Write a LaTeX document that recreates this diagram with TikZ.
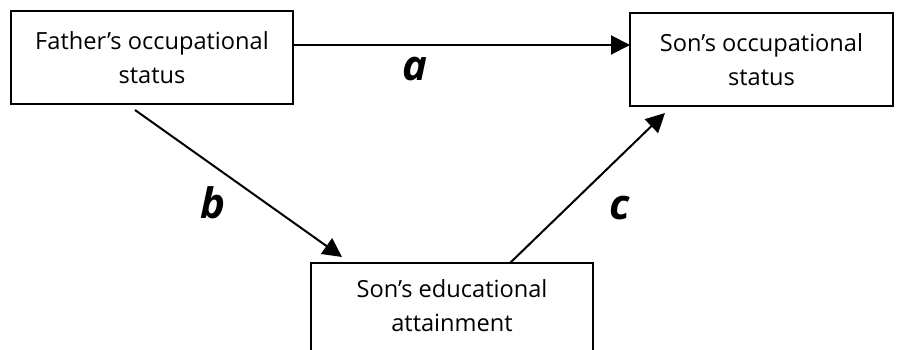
\documentclass[tikz,border=0pt]{standalone}
\usepackage{fontspec}
\setmainfont{Open Sans}
\usetikzlibrary{arrows.meta}
\begin{document}
\begin{tikzpicture}[x=0.5pt,y=-0.5pt,
  box/.style={draw, line width=1pt, inner sep=0pt, align=center,
    font=\fontsize{11.8pt}{17pt}\selectfont},
  link/.style={line width=1pt, -{Triangle[length=9.5pt,width=9.5pt]}},
  lbl/.style={font=\fontsize{21pt}{21pt}\selectfont\bfseries\itshape}]
  \useasboundingbox (0,0) rectangle (900,349);
  \clip (0,0) rectangle (900,349);
  \node[box, minimum width=141pt, minimum height=46.5pt] (fa) at (152,57.5)
    {Father's occupational\\status};
  \node[box, minimum width=131.5pt, minimum height=46.5pt] (so) at (761.5,59.5)
    {Son's occupational\\status};
  \node[box, minimum width=141pt, minimum height=60pt] (se) at (452,323)
    {};
  \node[align=center, font=\fontsize{11.8pt}{17pt}\selectfont] (setext) at (452,306)
    {Son's educational\\attainment};
  \coordinate (aS) at (293,45);
  \coordinate (aE) at (630,45);
  \coordinate (bS) at (135,110);
  \coordinate (bE) at (342,257);
  \coordinate (cS) at (510,263);
  \coordinate (cE) at (665,113);
  \draw[link] (aS) -- (aE);
  \draw[link] (bS) -- (bE);
  \draw[link] (cS) -- (cE);
  \node[lbl] (la) at (415,69) {a};
  \node[lbl] (lb) at (213,203) {b};
  \node[lbl] (lc) at (620,208) {c};
\end{tikzpicture}
\end{document}
